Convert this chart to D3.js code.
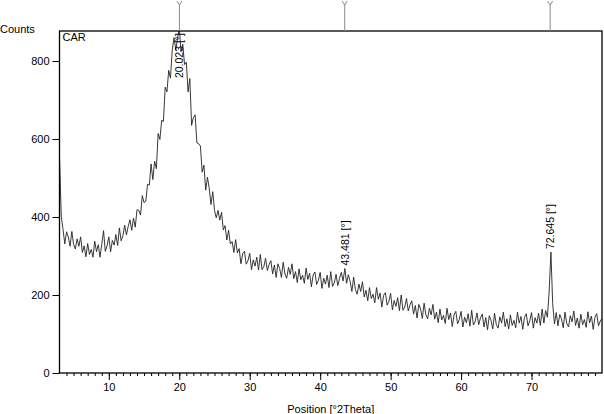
<!DOCTYPE html>
<html>
<head>
<meta charset="utf-8">
<script src="https://cdn.jsdelivr.net/npm/d3@7"></script>
<style>
  body { margin: 0; background: #fff; }
  text { font-family: "Liberation Sans", Arial, sans-serif; }
</style>
</head>
<body>
<div id="chart"></div>
<script>
// scan settings (°2Theta)
var startAngle = 3;
var stepAngle = 0.25;

// counts, one row per degree (x.00, x.25, x.50, x.75)
var counts = [
  554, 402, 368, 331,
  362, 349, 325, 363,
  330, 318, 344, 325,
  349, 309, 326, 298,
  332, 304, 317, 297,
  338, 311, 329, 297,
  330, 365, 312, 326,
  349, 311, 340, 328,
  355, 327, 372, 339,
  352, 379, 354, 376,
  393, 366, 397, 374,
  419, 417, 405, 455,
  437, 441, 484, 482,
  536, 496, 543, 524,
  614, 599, 648, 645,
  733, 721, 776, 756,
  827, 860, 829, 857,
  885, 824, 843, 791,
  797, 721, 755, 635,
  655, 662, 590, 588,
  582, 515, 533, 469,
  502, 474, 432, 465,
  417, 398, 417, 392,
  412, 367, 378, 341,
  366, 331, 337, 309,
  342, 308, 319, 280,
  306, 312, 279, 288,
  307, 265, 290, 274,
  297, 264, 304, 265,
  273, 294, 263, 278,
  288, 254, 277, 245,
  280, 268, 245, 284,
  254, 243, 271, 253,
  280, 242, 260, 232,
  267, 239, 251, 230,
  269, 240, 256, 221,
  251, 259, 227, 238,
  258, 217, 243, 228,
  251, 219, 260, 222,
  231, 253, 224, 243,
  258, 236, 268, 230,
  252, 235, 209, 246,
  214, 202, 228, 209,
  234, 195, 212, 185,
  219, 191, 202, 180,
  219, 189, 205, 169,
  199, 206, 174, 184,
  204, 162, 186, 171,
  193, 160, 200, 161,
  169, 191, 159, 175,
  185, 151, 173, 141,
  176, 164, 140, 179,
  149, 139, 166, 149,
  176, 138, 156, 129,
  164, 136, 148, 127,
  166, 137, 154, 119,
  149, 158, 126, 138,
  158, 118, 143, 129,
  152, 120, 161, 123,
  132, 154, 124, 141,
  151, 118, 142, 111,
  147, 135, 113, 153,
  124, 115, 144, 128,
  156, 119, 139, 113,
  149, 122, 135, 116,
  156, 128, 145, 112,
  143, 152, 121, 134,
  155, 115, 142, 128,
  153, 122, 164, 128,
  160, 143, 210, 310,
  178, 126, 155, 121,
  150, 139, 116, 156,
  127, 118, 147, 131,
  159, 122, 141, 115,
  151, 124, 137, 117,
  157, 129, 146, 112,
  143, 152, 121, 133,
  140
];

var yTicks = [0, 200, 400, 600, 800];
var xTicks = [10, 20, 30, 40, 50, 60, 70];
var xMinorTicks = d3.range(4, 80, 1);

var peakPos = [20.023, 43.481, 72.645];
var peakHeights = [868, 268, 310];
var peakLabels = ["20.023 [°]", "43.481 [°]", "72.645 [°]"];

var sampleName = "CAR";

var plotL = 59.5, plotR = 602, plotT = 31, plotB = 373;

var svg = d3.select("#chart").append("svg")
            .attr("width", 604)
            .attr("height", 414);

var x = d3.scaleLinear().domain([3, 80]).range([plotL, plotR]);
var y = d3.scaleLinear().domain([0, 877]).range([plotB, plotT]);

svg.append("clipPath").attr("id", "plotClip")
   .append("rect")
   .attr("x", plotL).attr("y", plotT)
   .attr("width", plotR - plotL).attr("height", plotB - plotT);

// pattern
var line = d3.line()
             .x(function(d, i){ return x(startAngle + i * stepAngle); })
             .y(function(d){ return y(d); });

svg.append("path")
   .datum(counts)
   .attr("clip-path", "url(#plotClip)")
   .attr("d", line)
   .attr("fill", "none")
   .attr("stroke", "#222")
   .attr("stroke-width", 0.9)
   .attr("stroke-linejoin", "round");

// frame
svg.append("rect")
   .attr("x", plotL).attr("y", plotT)
   .attr("width", plotR - plotL).attr("height", plotB - plotT)
   .attr("fill", "none")
   .attr("stroke", "#000")
   .attr("stroke-width", 1.3);

// y axis
var yAxis = svg.append("g")
   .attr("transform", "translate(" + plotL + ",0)")
   .call(d3.axisLeft(y).tickValues(yTicks).tickSize(7).tickPadding(3).tickSizeOuter(0));
yAxis.select(".domain").remove();
yAxis.selectAll("text").attr("font-size", 11).attr("font-family", "Liberation Sans, Arial, sans-serif");

// x axis, minor then major ticks
var xMinor = svg.append("g")
   .attr("transform", "translate(0," + plotB + ")")
   .call(d3.axisBottom(x).tickValues(xMinorTicks).tickSize(3).tickFormat("").tickSizeOuter(0));
xMinor.select(".domain").remove();

var xAxis = svg.append("g")
   .attr("transform", "translate(0," + plotB + ")")
   .call(d3.axisBottom(x).tickValues(xTicks).tickSize(7).tickPadding(3).tickSizeOuter(0));
xAxis.select(".domain").remove();
xAxis.selectAll("text").attr("font-size", 11).attr("font-family", "Liberation Sans, Arial, sans-serif");

// titles
svg.append("text")
   .attr("x", 0).attr("y", 33)
   .attr("font-size", 11)
   .text("Counts");

svg.append("text")
   .attr("x", (plotL + plotR) / 2).attr("y", 413)
   .attr("text-anchor", "middle")
   .attr("font-size", 11)
   .text("Position [°2Theta]");

svg.append("text")
   .attr("x", plotL + 3).attr("y", plotT + 10)
   .attr("font-size", 11)
   .text(sampleName);

// peak markers above the frame
peakPos.forEach(function(p, i){
  var px = x(p);
  svg.append("path")
     .attr("d", "M" + (px - 2.5) + ",1L" + px + ",5L" + (px + 2.5) + ",1M" + px + ",5L" + px + "," + plotT)
     .attr("fill", "none")
     .attr("stroke", "#8a8a8a")
     .attr("stroke-width", 1);

  var lbl = svg.append("text")
     .attr("font-size", 10.5)
     .attr("text-anchor", "start")
     .text(peakLabels[i]);
  var len = lbl.node().getComputedTextLength();
  var sy = Math.max(y(peakHeights[i]) - 3, plotT + len + 2);
  lbl.attr("transform", "translate(" + (px + 4) + "," + sy + ") rotate(-90)");
});
</script>
</body>
</html>
